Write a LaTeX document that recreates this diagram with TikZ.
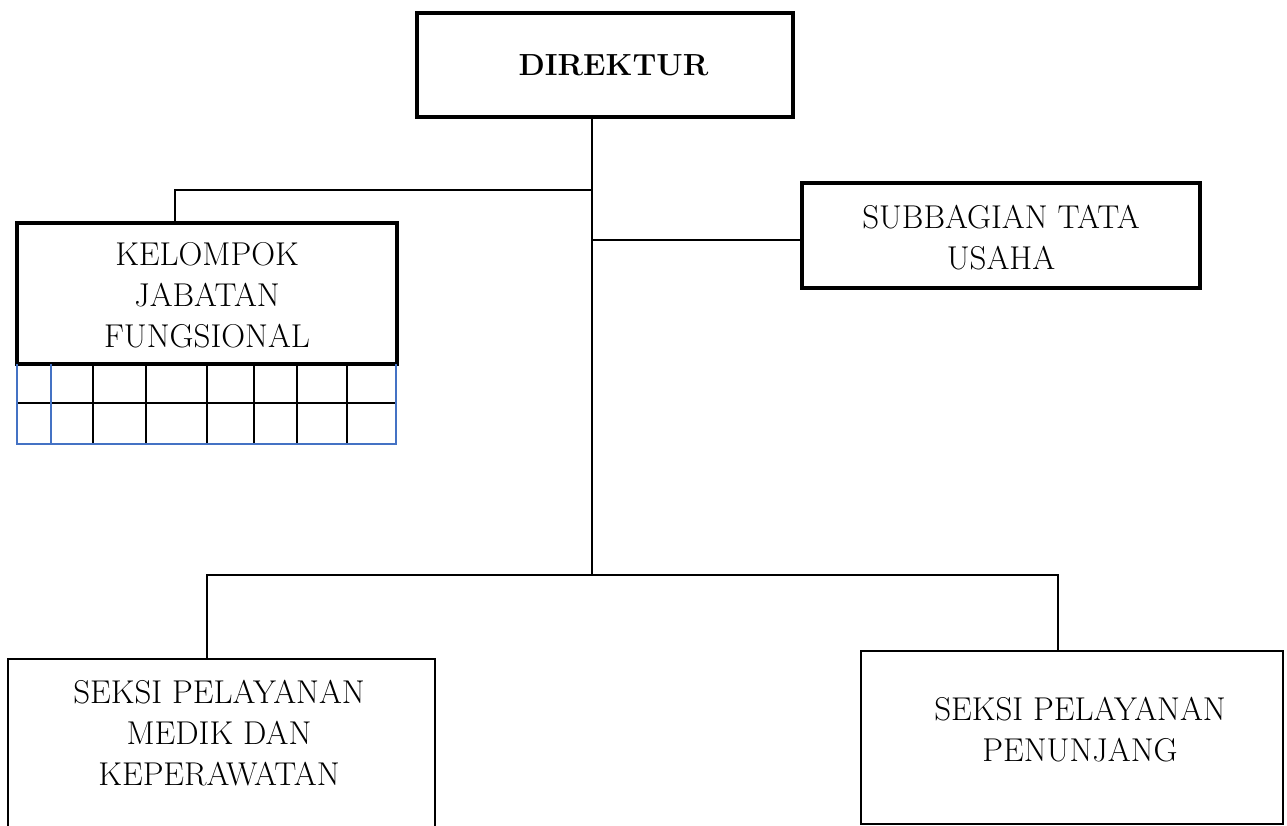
\documentclass[tikz,border=0pt]{standalone}
\usepackage{fontspec}
\usetikzlibrary{fit}
\definecolor{gridblue}{RGB}{68,114,196}
\begin{document}
\begin{tikzpicture}[x=1pt,y=-1pt,
  thickbox/.style={draw=black, line width=4pt, rectangle, align=center, inner sep=0pt},
  thinbox/.style={draw=black, line width=2pt, rectangle, align=center, inner sep=0pt},
  lbl/.style={align=center, font=\fontsize{33}{41}\selectfont, inner sep=0pt},
  conn/.style={draw=black, line width=2pt},
  gridblk/.style={draw=black, line width=2pt},
  gridblu/.style={draw=gridblue, line width=2pt}]
\useasboundingbox (0,0) rectangle (1287,825);

% boxes
\node[thickbox, minimum width=376pt, minimum height=104pt, font=\fontsize{30.5}{40}\selectfont\bfseries] (dir) at (605,65) {\hspace*{17pt}DIREKTUR};
\node[thickbox, minimum width=380pt, minimum height=141pt] (kel) at (207,293.5) {};
\node[lbl] (keltxt) at (207,295) {KELOMPOK\\JABATAN\\FUNGSIONAL};
\node[thickbox, minimum width=398pt, minimum height=105pt] (sub) at (1001,235.5) {};
\node[lbl] (subtxt) at (1001,238) {SUBBAGIAN TATA\\USAHA};
\coordinate (slA) at (8,659);
\coordinate (slB) at (435,840);
\node[thinbox, fit=(slA)(slB)] (seksiL) {};
\node[lbl] (seksiLtxt) at (219,733) {SEKSI PELAYANAN\\MEDIK DAN\\KEPERAWATAN};
\node[thinbox, minimum width=422pt, minimum height=173pt] (seksiR) at (1072,737.5) {};
\node[lbl] (seksiRtxt) at (1080,730) {SEKSI PELAYANAN\\PENUNJANG};

% grid under KELOMPOK
\foreach \x in {93,146,207,254,297,347} {\draw[gridblk] (\x,364) -- (\x,444);}
\draw[gridblk] (17,403) -- (396,403);
\draw[gridblu] (17,364) -- (17,444) -- (396,444) -- (396,364);
\draw[gridblu] (51,364) -- (51,444);

% connectors
\coordinate (j1) at (592,190);
\coordinate (j2) at (592,240);
\coordinate (j3) at (592,575);
\coordinate (kx) at (175,190);
\coordinate (bl) at (207,575);
\coordinate (br) at (1058,575);
\draw[conn] (dir.south -| j1) -- (j3);
\draw[conn] (j1) -- (kx) -- (kx |- kel.north);
\draw[conn] (j2) -- (j2 -| sub.west);
\draw[conn] (bl |- seksiL.north) -- (bl) -- (br) -- (br |- seksiR.north);
\end{tikzpicture}
\end{document}
